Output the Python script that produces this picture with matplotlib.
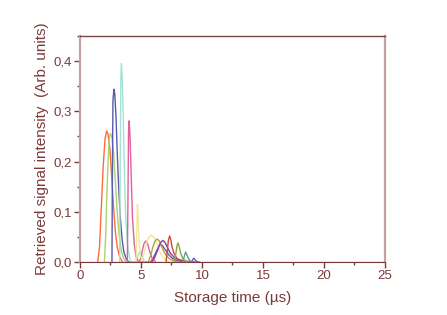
import matplotlib
matplotlib.use('Agg')
import matplotlib.pyplot as plt
from matplotlib.ticker import MultipleLocator

# --- data (time in us, intensity in arb. units) ---
t_orange = [1.45, 1.6, 1.75, 1.9, 2.05, 2.18, 2.3, 2.45, 2.6, 2.75, 2.9, 3.05, 3.25, 3.5]
i_orange = [0.0, 0.03, 0.11, 0.19, 0.245, 0.261, 0.255, 0.225, 0.17, 0.11, 0.06, 0.03, 0.01, 0.0]

t_green = [2.0, 2.1, 2.2, 2.3, 2.4, 2.5, 2.6, 2.75, 2.9, 3.05, 3.2, 3.4, 3.6, 3.8]
i_green = [0.0, 0.05, 0.13, 0.2, 0.245, 0.256, 0.25, 0.22, 0.16, 0.1, 0.055, 0.02, 0.006, 0.0]

t_blue = [2.62, 2.65, 2.7, 2.78, 2.85, 2.95, 3.05, 3.15, 3.3, 3.45, 3.6, 3.8, 4.0,
          5.8, 5.95, 6.15, 6.35, 6.55, 6.75, 7.0, 7.3, 7.6, 8.0, 8.5]
i_blue = [0.0, 0.15, 0.32, 0.344, 0.335, 0.29, 0.22, 0.16, 0.09, 0.045, 0.02, 0.006, 0.0,
          0.0, 0.006, 0.015, 0.026, 0.035, 0.033, 0.024, 0.014, 0.007, 0.003, 0.0]

t_cyan = [3.25, 3.3, 3.35, 3.4, 3.47, 3.55, 3.65, 3.75, 3.9, 4.05, 4.2,
          4.55, 4.7, 4.85, 4.95, 5.1, 5.3]
i_cyan = [0.0, 0.2, 0.37, 0.395, 0.36, 0.28, 0.17, 0.09, 0.035, 0.01, 0.0,
          0.0, 0.01, 0.018, 0.019, 0.012, 0.0]

t_pink = [3.88, 3.93, 3.98, 4.03, 4.1, 4.2, 4.3, 4.45, 4.6, 4.8,
          4.95, 5.1, 5.25, 5.4, 5.55, 5.7, 5.9, 6.2]
i_pink = [0.0, 0.12, 0.26, 0.281, 0.25, 0.17, 0.09, 0.035, 0.01, 0.0,
          0.005, 0.022, 0.037, 0.042, 0.036, 0.022, 0.008, 0.0]

t_yellow = [4.6, 4.65, 4.71, 4.78, 4.85, 4.95, 5.1,
            5.2, 5.4, 5.6, 5.85, 6.1, 6.35, 6.6, 6.9, 7.3]
i_yellow = [0.0, 0.06, 0.115, 0.08, 0.04, 0.012, 0.004,
            0.012, 0.032, 0.048, 0.054, 0.048, 0.033, 0.018, 0.007, 0.0]

t_olive = [5.6, 5.8, 6.0, 6.15, 6.32, 6.5, 6.7, 6.95, 7.3, 7.6, 8.0]
i_olive = [0.0, 0.014, 0.032, 0.042, 0.046, 0.042, 0.03, 0.017, 0.007, 0.003, 0.0]

t_purple = [5.9, 6.1, 6.3, 6.5, 6.65, 6.8, 6.95, 7.15, 7.4, 7.7, 8.1, 8.6, 9.5]
i_purple = [0.0, 0.008, 0.02, 0.033, 0.04, 0.043, 0.04, 0.03, 0.018, 0.01, 0.005, 0.002, 0.0]

t_red = [7.05, 7.15, 7.25, 7.35, 7.45, 7.55, 7.7, 7.9, 8.1, 8.4]
i_red = [0.0, 0.02, 0.044, 0.052, 0.044, 0.03, 0.018, 0.009, 0.004, 0.0]

t_lime = [7.75, 7.85, 7.95, 8.03, 8.12, 8.25, 8.4, 8.6, 8.85]
i_lime = [0.0, 0.015, 0.032, 0.038, 0.032, 0.018, 0.008, 0.003, 0.0]

t_teal = [8.45, 8.55, 8.66, 8.75, 8.9, 9.05, 9.25]
i_teal = [0.0, 0.012, 0.02, 0.015, 0.007, 0.002, 0.0]

t_violet = [9.15, 9.25, 9.34, 9.45, 9.6, 9.8]
i_violet = [0.0, 0.005, 0.008, 0.004, 0.001, 0.0]

t_base = [0.0, 25.0]
i_base = [0.0, 0.0]

series = [
    (t_orange, i_orange, '#FF6A3A'),
    (t_green, i_green, '#A6D46E'),
    (t_blue, i_blue, '#5A5AAE'),
    (t_cyan, i_cyan, '#A6E2D2'),
    (t_pink, i_pink, '#E2609E'),
    (t_yellow, i_yellow, '#F2E89A'),
    (t_olive, i_olive, '#B4A23E'),
    (t_purple, i_purple, '#8A3E9A'),
    (t_red, i_red, '#CC4A34'),
    (t_lime, i_lime, '#8AA842'),
    (t_teal, i_teal, '#5E9E8C'),
    (t_violet, i_violet, '#6A5AC4'),
    (t_base, i_base, '#F2A052'),
]

x_ticks = [0, 5, 10, 15, 20, 25]
y_ticks = [0.0, 0.1, 0.2, 0.3, 0.4]
y_tick_labels = ['0,0', '0,1', '0,2', '0,3', '0,4']

maroon = '#7A3A3A'

plt.rcParams['font.family'] = ['Liberation Sans', 'DejaVu Sans']

fig = plt.figure(figsize=(4.47, 3.15), dpi=100)
ax = fig.add_axes([0.179, 0.168, 0.682, 0.718])

for t, i, c in series:
    ax.plot(t, i, color=c, lw=1.0)

ax.set_xlim(0, 25)
ax.set_ylim(0, 0.45)
ax.set_xticks(x_ticks)
ax.set_yticks(y_ticks)
ax.set_yticklabels(y_tick_labels)
ax.xaxis.set_minor_locator(MultipleLocator(2.5))
ax.yaxis.set_minor_locator(MultipleLocator(0.05))

ax.tick_params(which='major', direction='out', length=4, width=1,
               color=maroon, labelcolor=maroon, labelsize=9.5, pad=2)
ax.tick_params(which='minor', direction='out', length=2.5, width=1, color=maroon)
ax.tick_params(top=False, right=False, which='both')

ax.spines['top'].set_color('#7A4545')
ax.spines['top'].set_linewidth(1.0)
ax.spines['bottom'].set_color(maroon)
ax.spines['left'].set_color('#C4A2A2')
ax.spines['right'].set_color('#C4A2A2')
ax.spines['left'].set_linewidth(1.6)
ax.spines['right'].set_linewidth(1.6)

ax.set_xlabel('Storage time (\u00b5s)', color=maroon, fontsize=11, labelpad=6)
ax.set_ylabel('Retrieved signal intensity  (Arb. units)', color=maroon, fontsize=11, labelpad=3)

fig.savefig('out.png', dpi=100)
